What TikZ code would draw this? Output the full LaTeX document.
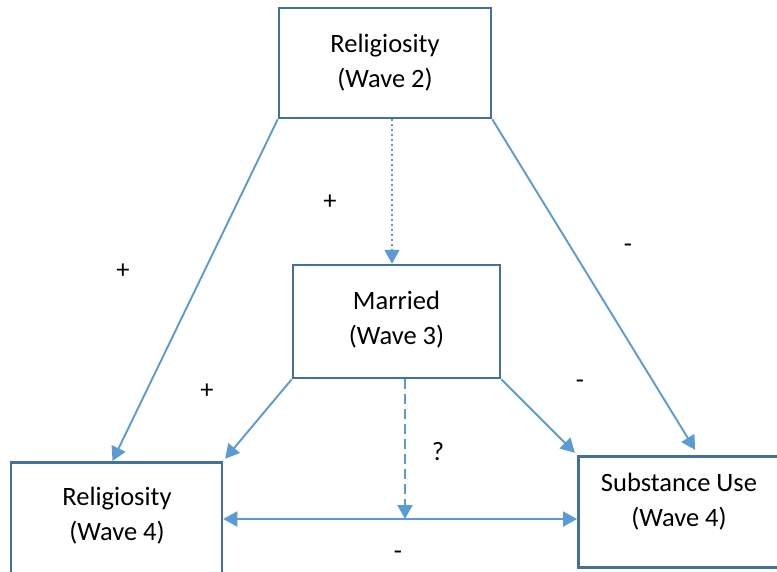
\documentclass[tikz,border=0pt]{standalone}
\usepackage{fontspec}
\setmainfont{Carlito}
\usetikzlibrary{arrows.meta}
\definecolor{boxblue}{HTML}{41719C}
\definecolor{lineblue}{HTML}{5B9BD5}
\tikzset{
	box/.style={draw=boxblue, line width=2.5pt, inner sep=0pt},
	boxtext/.style={align=center, font=\fontsize{26.5}{35}\selectfont},
	link/.style={draw=lineblue, line width=1.9pt, -{Triangle[length=14pt,width=15pt]}},
	sign/.style={font=\fontsize{26.5}{30}\selectfont}
}
\begin{document}
\begin{tikzpicture}[x=1pt,y=-1pt]
			%%%%% START %%%%%
			\clip (0,0) rectangle (777,571);
			
			% boxes
			\node[box, minimum width=212pt, minimum height=110pt] (relig2) at (385, 63) {};
			\node[boxtext] at (385, 62.5) {Religiosity\\(Wave 2)};
			
			\node[box, minimum width=207pt, minimum height=113pt] (married) at (396.5, 321.5) {};
			\node[boxtext] at (396.5, 320) {Married\\(Wave 3)};
			
			\node[box, minimum width=211pt, minimum height=122pt, anchor=north] (relig4) at (116.5, 461) {};
			\node[boxtext] at (117, 515.5) {Religiosity\\(Wave 4)};
			
			\node[box, minimum width=202pt, minimum height=111pt, anchor=north west] (subst4) at (577, 455) {};
			\node[boxtext] at (679, 501.5) {Substance Use\\(Wave 4)};
			
			% paths
			\coordinate (dotx) at (392, 0);
			\coordinate (hit) at (405, 519);
			
			\draw[link] (relig2.south west) -- ([xshift=-4pt]relig4.north);
			\draw[link, shorten >=6pt] (relig2.south east) -- ([xshift=19pt]subst4.north);
			\draw[link, dash pattern=on 2pt off 3pt] (relig2.south -| dotx) -- (married.north -| dotx);
			
			\draw[link, shorten >=3pt] (married.south west) -- (relig4.north east);
			\draw[link, shorten >=3pt] (married.south east) -- (subst4.north west);
			\draw[link, dash pattern=on 10pt off 5pt] (married.south -| hit) -- (hit);
			
			\draw[link, {Triangle[length=14pt,width=15pt]}-{Triangle[length=14pt,width=15pt]}] (hit -| relig4.east) -- (hit -| subst4.west);
			
			% signs
			\node[sign] (s1) at (123, 271) {+};
			\node[sign] (s2) at (330, 202) {+};
			\node[sign] (s3) at (628, 248) {-};
			\node[sign] (s4) at (207, 391) {+};
			\node[sign] (s5) at (580, 384) {-};
			\node[sign] (s6) at (438, 452) {?};
			\node[sign] (s7) at (398, 555) {-};
			
			%%%%% END %%%%%
\end{tikzpicture}
\end{document}
